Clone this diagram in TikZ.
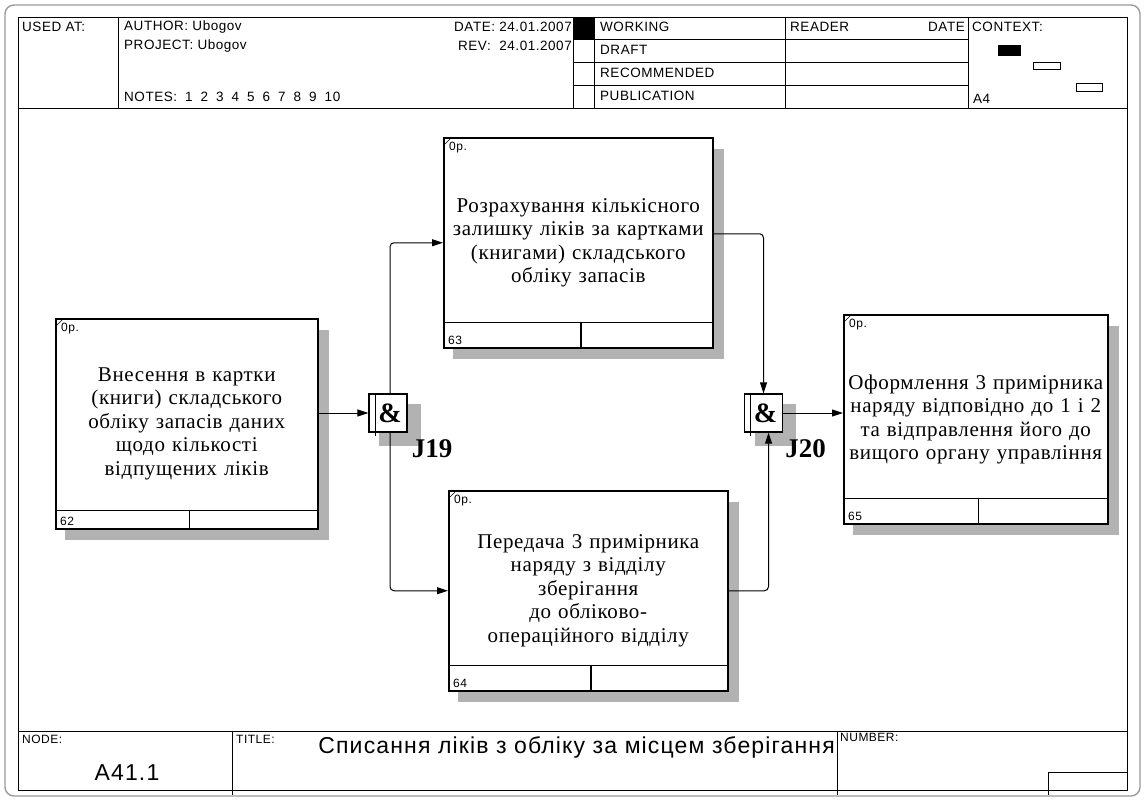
\documentclass[tikz,border=0pt]{standalone}
\usepackage{fontspec}
\setmainfont{Liberation Serif}
\setsansfont{Liberation Sans}
\newfontfamily\formfont[LetterSpace=4]{Liberation Sans}
\newfontfamily\titlefont[LetterSpace=5]{Liberation Sans}
\newfontfamily\boxfont[LetterSpace=3]{Liberation Serif}
\usetikzlibrary{positioning,arrows.meta,backgrounds,calc}

\begin{document}
\begin{tikzpicture}[x=1pt, y=-1pt,
    form/.style={line width=0.8pt},
    hdr/.style={font=\formfont\fontsize{13.5}{15}\selectfont, inner sep=0pt, anchor=west},
    lbl/.style={font=\formfont\fontsize{12}{13}\selectfont, inner sep=0pt},
    act/.style={draw, line width=1.5pt, fill=white, anchor=north west, align=center, inner sep=0pt,
                font=\boxfont\fontsize{21}{23.5}\selectfont},
    boxshade/.style={fill=black!30},
    jn/.style={draw, line width=1.3pt, fill=white, minimum width=38pt, minimum height=38pt, inner sep=0pt,
               font=\bfseries\fontsize{28}{28}\selectfont},
    jlabel/.style={font=\bfseries\fontsize{27}{27}\selectfont, inner sep=0pt},
    flow/.style={-{Triangle[length=11pt,width=7pt]}, line width=1pt, rounded corners=4pt},
]
  \useasboundingbox (0,0) rectangle (1145,800);
  %% sheet frame
  \draw[black!40, line width=1.4pt, rounded corners=9pt] (5,5) rectangle (1140,796);
  \draw[form] (18,17) rectangle (1127,790);
  %% header form
  \draw[form] (18,108) -- (1127,108);
  \foreach \x in {118,573,594,785,968} \draw[form] (\x,17) -- (\x,108);
  \foreach \y in {39,62,85} \draw[form] (573,\y) -- (968,\y);
  \fill (573,17) rectangle (594,39);
  \fill (998,45) rectangle (1021,56);
  \draw[form] (1033,62) rectangle (1060,69);
  \draw[form] (1076,83) rectangle (1102,91);
  \node[hdr] (used) at (22,27) {USED AT:};
  \node[hdr] (author) at (124,27) {AUTHOR: Ubogov};
  \node[hdr] (project) at (124,46) {PROJECT: Ubogov};
  \node[hdr] (notes) at (124,97) {\spaceskip=8pt NOTES: 1 2 3 4 5 6 7 8 9 10};
  \node[hdr, anchor=east] (date) at (572,27) {DATE: 24.01.2007};
  \node[hdr, anchor=east] (rev) at (572,46) {REV:\ \ 24.01.2007};
  \node[hdr] (working) at (600,27) {WORKING};
  \node[hdr] (draft) at (600,50) {DRAFT};
  \node[hdr] (recom) at (600,73) {RECOMMENDED};
  \node[hdr] (publ) at (600,96) {PUBLICATION};
  \node[hdr] (reader) at (790,27) {READER};
  \node[hdr, anchor=east] (rdate) at (965,27) {DATE};
  \node[hdr] (context) at (972,27) {CONTEXT:};
  \node[hdr] (sheet) at (973,99) {A4};
  %% footer form
  \draw[form] (18,731) -- (1127,731);
  \draw[form] (232,731) -- (232,795);
  \draw[form] (837,731) -- (837,795);
  \draw[form] (1048,795) |- (1127,772);
  \node[lbl, anchor=west] (nodelbl) at (22,739) {NODE:};
  \node[font=\titlefont\fontsize{23}{25}\selectfont, inner sep=0pt] (nodeno) at (127,773) {A41.1};
  \node[lbl, anchor=west] (titlelbl) at (236,739) {TITLE:};
  \node[font=\titlefont\fontsize{23}{25}\selectfont, inner sep=0pt, anchor=east] (title) at (835,747)
       {Списання ліків з обліку за місцем зберігання};
  \node[lbl, anchor=west] (numlbl) at (840,737) {NUMBER:};

  %% activity boxes
  \node[act, minimum width=262pt, minimum height=210pt, text width=262pt] (b62) at (55,318)
       {Внесення в картки\\(книги) складського\\обліку запасів даних\\щодо кількості\\відпущених ліків};
  \node[act, minimum width=269pt, minimum height=210pt, text width=269pt] (b63) at (443,137)
       {Розрахування кількісного\\залишку ліків за картками\\(книгами) складського\\обліку запасів};
  \node[act, minimum width=279pt, minimum height=200pt, text width=279pt] (b64) at (448,490)
       {Передача 3 примірника\\наряду з відділу\\зберігання\\до обліково-\\операційного відділу};
  \node[act, minimum width=264pt, minimum height=209pt, text width=264pt] (b65) at (843,314)
       {Оформлення 3 примірника\\наряду відповідно до 1 і 2\\та відправлення його до\\вищого органу управління};
  \foreach \b/\n/\h in {b62/62/19, b63/63/26, b64/64/26, b65/65/26} {
    \draw[line width=1.2pt] ([yshift=\h pt]\b.south west) -- ([yshift=\h pt]\b.south east);
    \draw[line width=1.2pt] ($(\b.south west)!0.51!(\b.south east)$) -- ++(0,-\h);
    \node[lbl, anchor=south west] (n\n) at ([shift={(5,-4)}]\b.south west) {\n};
    \node[lbl, anchor=north west] (o\n) at ([shift={(6,5)}]\b.north west) {0p.};
    \draw ([yshift=-9pt]\b.north west) -- ([xshift=9pt]\b.north west);
  }

  %% junctions
  \node[jn] (j19) at (388,413) {\hspace{4pt}\&};
  \node[jn] (j20) at (763.5,413) {\hspace{4pt}\&};
  \draw[line width=1.1pt] ([xshift=7pt]j19.north west) -- ([xshift=7pt,yshift=-3pt]j19.south west);
  \draw[line width=1.1pt] ([xshift=7pt]j20.north west) -- ([xshift=7pt,yshift=-3pt]j20.south west);
  \node[jlabel, below right=7pt and 4pt of j19.south east] (l19) {J19};
  \node[jlabel, below right=7pt and 2pt of j20.south east] (l20) {J20};

  %% shadows
  \begin{scope}[on background layer]
    \foreach \b in {b62,b63,b64,b65}
      \fill[boxshade] ([shift={(10,12)}]\b.north west) rectangle ([shift={(10,10)}]\b.south east);
    \foreach \j in {j19,j20}
      \fill[boxshade] ([shift={(11,11)}]\j.north west) rectangle ([shift={(13,13)}]\j.south east);
  \end{scope}

  %% arrows
  \draw[flow] (b62.east |- j19.west) -- (j19.west);
  \draw[flow] ([xshift=2pt]j19.north) |- (b63.west);
  \draw[flow] ([xshift=2pt]j19.south) |- (b64.west);
  \draw[flow] ([yshift=9pt]b63.east) -| (j20.north);
  \draw[flow] (b64.east) -| ([xshift=5pt]j20.south);
  \draw[flow] (j20.east) -- (j20.east -| b65.west);
\end{tikzpicture}
\end{document}
